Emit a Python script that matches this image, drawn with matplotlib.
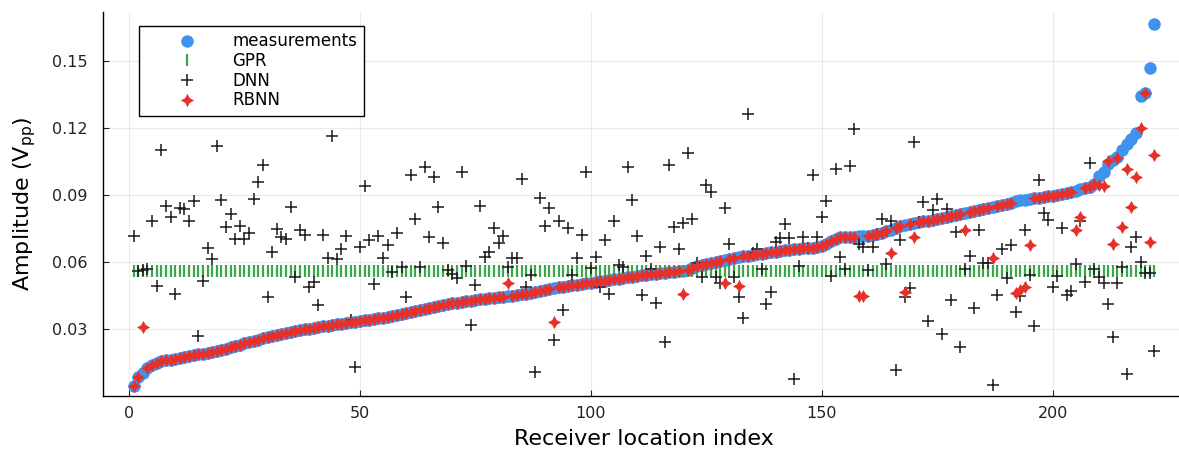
import numpy as np
import matplotlib
matplotlib.use("Agg")
import matplotlib.pyplot as plt

# sorted measured amplitudes per receiver location
measurements = [
    0.0045, 0.0085, 0.0105, 0.0125, 0.0140, 0.0150, 0.0156, 0.0160, 0.0163, 0.0166,
    0.0170, 0.0174, 0.0178, 0.0183, 0.0187, 0.0190, 0.0194, 0.0198, 0.0203, 0.0208,
    0.0212, 0.0218, 0.0224, 0.0230, 0.0236, 0.0242, 0.0248, 0.0253, 0.0258, 0.0263,
    0.0268, 0.0273, 0.0278, 0.0282, 0.0286, 0.0290, 0.0294, 0.0298, 0.0302, 0.0306,
    0.0309, 0.0312, 0.0315, 0.0318, 0.0321, 0.0324, 0.0327, 0.0330, 0.0333, 0.0336,
    0.0339, 0.0342, 0.0345, 0.0348, 0.0351, 0.0355, 0.0359, 0.0363, 0.0367, 0.0371,
    0.0376, 0.0381, 0.0386, 0.0391, 0.0396, 0.0400, 0.0404, 0.0408, 0.0412, 0.0415,
    0.0418, 0.0421, 0.0424, 0.0427, 0.0430, 0.0433, 0.0436, 0.0438, 0.0440, 0.0442,
    0.0444, 0.0446, 0.0449, 0.0452, 0.0455, 0.0459, 0.0463, 0.0467, 0.0471, 0.0475,
    0.0479, 0.0483, 0.0487, 0.0490, 0.0493, 0.0496, 0.0499, 0.0502, 0.0505, 0.0508,
    0.0511, 0.0514, 0.0517, 0.0520, 0.0523, 0.0526, 0.0529, 0.0532, 0.0535, 0.0538,
    0.0541, 0.0544, 0.0546, 0.0548, 0.0550, 0.0552, 0.0554, 0.0556, 0.0558, 0.0561,
    0.0566, 0.0575, 0.0582, 0.0587, 0.0592, 0.0597, 0.0601, 0.0605, 0.0609, 0.0613,
    0.0617, 0.0621, 0.0625, 0.0629, 0.0632, 0.0635, 0.0638, 0.0641, 0.0644, 0.0647,
    0.0650, 0.0653, 0.0655, 0.0657, 0.0659, 0.0661, 0.0663, 0.0665, 0.0667, 0.0670,
    0.0680, 0.0695, 0.0705, 0.0710, 0.0712, 0.0713, 0.0714, 0.0715, 0.0716, 0.0718,
    0.0722, 0.0726, 0.0731, 0.0737, 0.0744, 0.0752, 0.0760, 0.0766, 0.0771, 0.0775,
    0.0779, 0.0782, 0.0786, 0.0790, 0.0794, 0.0798, 0.0802, 0.0806, 0.0811, 0.0816,
    0.0821, 0.0826, 0.0830, 0.0834, 0.0838, 0.0842, 0.0846, 0.0850, 0.0855, 0.0860,
    0.0866, 0.0872, 0.0876, 0.0879, 0.0882, 0.0885, 0.0888, 0.0891, 0.0894, 0.0897,
    0.0901, 0.0905, 0.0910, 0.0915, 0.0920, 0.0926, 0.0932, 0.0938, 0.0950, 0.0985,
    0.1005, 0.1040, 0.1058, 0.1072, 0.1100, 0.1128, 0.1153, 0.1180, 0.1345, 0.1355,
    0.1468, 0.1666,
]

gpr_level = 0.0561

dnn = [
    0.0718, 0.0560, 0.0565, 0.0570, 0.0785, 0.0492, 0.1100, 0.0851, 0.0803, 0.0457,
    0.0842, 0.0836, 0.0785, 0.0875, 0.0269, 0.0516, 0.0661, 0.0612, 0.1120, 0.0878,
    0.0755, 0.0814, 0.0702, 0.0761, 0.0702, 0.0731, 0.0884, 0.0960, 0.1034, 0.0442,
    0.0646, 0.0746, 0.0711, 0.0702, 0.0848, 0.0534, 0.0743, 0.0721, 0.0489, 0.0512,
    0.0407, 0.0721, 0.0617, 0.1164, 0.0612, 0.0657, 0.0716, 0.0340, 0.0131, 0.0669,
    0.0940, 0.0699, 0.0501, 0.0716, 0.0620, 0.0676, 0.0557, 0.0731, 0.0576, 0.0442,
    0.0990, 0.0791, 0.0576, 0.1024, 0.0713, 0.0979, 0.0848, 0.0684, 0.0564, 0.0546,
    0.0527, 0.1005, 0.0582, 0.0318, 0.0497, 0.0851, 0.0624, 0.0646, 0.0751, 0.0684,
    0.0716, 0.0579, 0.0617, 0.0617, 0.0970, 0.0487, 0.0542, 0.0109, 0.0885, 0.0761,
    0.0840, 0.0251, 0.0785, 0.0385, 0.0751, 0.0542, 0.0617, 0.0721, 0.1005, 0.0572,
    0.0624, 0.0487, 0.0699, 0.0457, 0.0785, 0.0587, 0.0579, 0.1027, 0.0878, 0.0716,
    0.0452, 0.0627, 0.0567, 0.0418, 0.0666, 0.0243, 0.1034, 0.0755, 0.0657, 0.0773,
    0.1087, 0.0791, 0.0594, 0.0534, 0.0945, 0.0915, 0.0534, 0.0507, 0.0840, 0.0680,
    0.0534, 0.0445, 0.0348, 0.1263, 0.0640, 0.0657, 0.0567, 0.0412, 0.0467, 0.0691,
    0.0706, 0.0770, 0.0706, 0.0075, 0.0582, 0.0713, 0.0665, 0.0990, 0.0713, 0.0803,
    0.0875, 0.0537, 0.1015, 0.0621, 0.0567, 0.1030, 0.1194, 0.0680, 0.0669, 0.0564,
    0.0666, 0.0726, 0.0791, 0.0591, 0.0785, 0.0116, 0.0699, 0.0445, 0.0482, 0.1139,
    0.0779, 0.0870, 0.0337, 0.0833, 0.0881, 0.0278, 0.0836, 0.0430, 0.0736, 0.0218,
    0.0567, 0.0627, 0.0393, 0.0743, 0.0594, 0.0594, 0.0049, 0.0452, 0.0657, 0.0527,
    0.0676, 0.0378, 0.0448, 0.0743, 0.0542, 0.0313, 0.0967, 0.0818, 0.0788, 0.0489,
    0.0537, 0.0751, 0.0452, 0.0472, 0.0591, 0.0785, 0.0512, 0.1045, 0.0567, 0.0534,
    0.0507, 0.0412, 0.0266, 0.0507, 0.0580, 0.0099, 0.0666, 0.0713, 0.0601, 0.0549,
    0.0549, 0.0203,
]

rbnn = [
    0.0045, 0.0085, 0.0310, 0.0125, 0.0140, 0.0150, 0.0156, 0.0160, 0.0163, 0.0166,
    0.0170, 0.0174, 0.0178, 0.0183, 0.0187, 0.0190, 0.0194, 0.0198, 0.0203, 0.0208,
    0.0212, 0.0218, 0.0224, 0.0230, 0.0236, 0.0242, 0.0248, 0.0253, 0.0258, 0.0263,
    0.0268, 0.0273, 0.0278, 0.0282, 0.0286, 0.0290, 0.0294, 0.0298, 0.0302, 0.0306,
    0.0309, 0.0312, 0.0315, 0.0318, 0.0321, 0.0324, 0.0327, 0.0330, 0.0333, 0.0336,
    0.0339, 0.0342, 0.0345, 0.0348, 0.0351, 0.0355, 0.0359, 0.0363, 0.0367, 0.0371,
    0.0376, 0.0381, 0.0386, 0.0391, 0.0396, 0.0400, 0.0404, 0.0408, 0.0412, 0.0415,
    0.0418, 0.0421, 0.0424, 0.0427, 0.0430, 0.0433, 0.0436, 0.0438, 0.0440, 0.0442,
    0.0444, 0.0507, 0.0449, 0.0452, 0.0455, 0.0459, 0.0463, 0.0467, 0.0471, 0.0475,
    0.0479, 0.0333, 0.0487, 0.0490, 0.0493, 0.0496, 0.0499, 0.0502, 0.0505, 0.0508,
    0.0511, 0.0514, 0.0517, 0.0520, 0.0523, 0.0526, 0.0529, 0.0532, 0.0535, 0.0538,
    0.0541, 0.0544, 0.0546, 0.0548, 0.0550, 0.0552, 0.0554, 0.0556, 0.0558, 0.0457,
    0.0566, 0.0575, 0.0582, 0.0587, 0.0592, 0.0597, 0.0601, 0.0605, 0.0507, 0.0613,
    0.0617, 0.0493, 0.0625, 0.0629, 0.0632, 0.0635, 0.0638, 0.0641, 0.0644, 0.0647,
    0.0650, 0.0653, 0.0655, 0.0657, 0.0659, 0.0661, 0.0663, 0.0665, 0.0667, 0.0670,
    0.0680, 0.0695, 0.0705, 0.0710, 0.0712, 0.0713, 0.0714, 0.0448, 0.0448, 0.0718,
    0.0722, 0.0726, 0.0731, 0.0737, 0.0639, 0.0752, 0.0760, 0.0467, 0.0771, 0.0713,
    0.0779, 0.0782, 0.0786, 0.0790, 0.0794, 0.0798, 0.0802, 0.0806, 0.0811, 0.0816,
    0.0743, 0.0826, 0.0830, 0.0834, 0.0838, 0.0842, 0.0617, 0.0850, 0.0855, 0.0860,
    0.0866, 0.0463, 0.0475, 0.0490, 0.0676, 0.0885, 0.0888, 0.0891, 0.0894, 0.0897,
    0.0901, 0.0905, 0.0910, 0.0915, 0.0743, 0.0800, 0.0932, 0.0938, 0.0950, 0.0945,
    0.0940, 0.1054, 0.0680, 0.1064, 0.0755, 0.1015, 0.0848, 0.0982, 0.1199, 0.1355,
    0.0691, 0.1079,
]

idx = np.arange(1, len(measurements) + 1)
gpr = np.full(len(idx), gpr_level)

fig = plt.figure(figsize=(11.79, 4.58), dpi=100)
ax = fig.add_axes([103 / 1179, 1 - 396 / 458, (1185 - 103) / 1179, (396 - 12) / 458])

ax.plot(idx, measurements, 'o', color='#3f93ee', ms=9, mew=0, label='measurements')
ax.plot(idx, gpr, '|', color='#3ea44e', ms=8, mew=1.6, label='GPR')
ax.plot(idx, dnn, '+', color='#1a1a1a', ms=8.5, mew=1.1, label='DNN')
ax.plot(idx, rbnn, marker=(4, 1, 0), ls='none', color='#e8302a', ms=9.5, mew=0, label='RBNN')

ax.set_xlim(-5.63, 228.63)
ax.set_ylim(0.0, 0.172)
ax.set_xticks([0, 50, 100, 150, 200])
ax.set_yticks([0.03, 0.06, 0.09, 0.12, 0.15])
ax.set_yticklabels(['0.03', '0.06', '0.09', '0.12', '0.15'])
ax.tick_params(direction='in', length=4, width=0.8, labelsize=11.5, colors='#222222')
ax.tick_params(axis='y', pad=11)
ax.tick_params(axis='x', pad=7)
ax.grid(True, color='black', alpha=0.08, lw=0.8)
ax.set_axisbelow(True)
for s in ['top', 'right']:
    ax.spines[s].set_visible(False)
for s in ['left', 'bottom']:
    ax.spines[s].set_linewidth(1.0)

ax.set_xlabel('Receiver location index', fontsize=16, labelpad=6)
ax.set_ylabel(r'Amplitude (V$_\mathrm{pp}$)', fontsize=16, labelpad=10)

leg = ax.legend(loc='upper left', bbox_to_anchor=(0.033, 0.964), borderaxespad=0,
                fontsize=12, numpoints=1, handlelength=5, handletextpad=0.2,
                labelspacing=0.1, borderpad=0.4, fancybox=False, framealpha=1,
                edgecolor='black')
leg.get_frame().set_linewidth(1.0)

plt.savefig('out.png', dpi=100)
